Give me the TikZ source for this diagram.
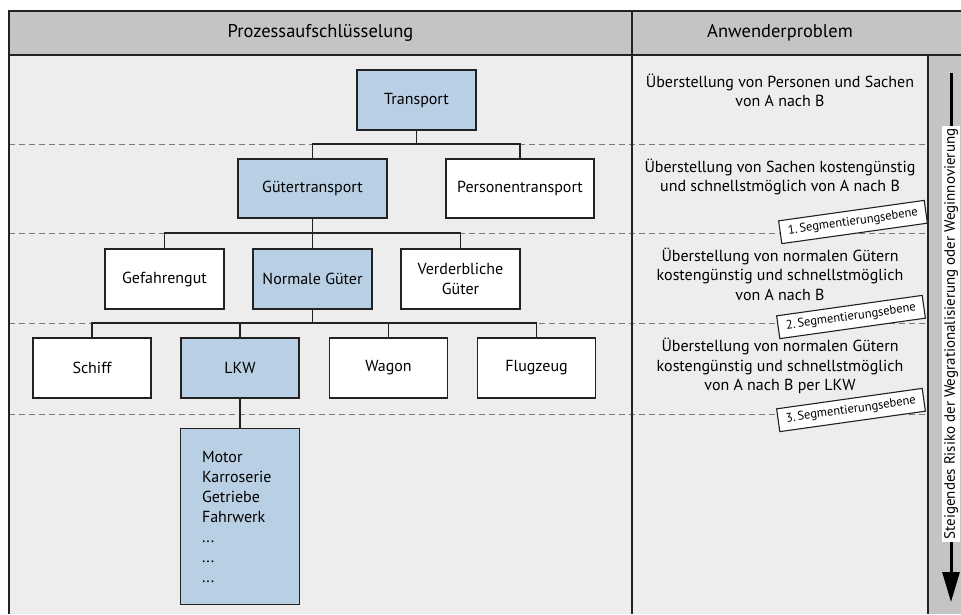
\documentclass[tikz,border=0pt]{standalone}
\usepackage{fontspec}
\setmainfont{PT Sans}
\usetikzlibrary{arrows.meta}

\definecolor{bodygray}{HTML}{EDEDED}
\definecolor{headgray}{HTML}{C4C4C4}
\definecolor{boxblue}{HTML}{B9CFE3}
\definecolor{dashgray}{HTML}{7A7A7A}
\definecolor{edge}{HTML}{222222}

\tikzset{
  frame/.style={draw=edge, line width=1.6pt},
  box/.style={draw=edge, line width=1.4pt, minimum width=119pt, minimum height=60pt,
    inner sep=0pt, align=center, font=\fontsize{16}{18}\selectfont},
  hl/.style={fill=boxblue},
  plain/.style={fill=white},
  conn/.style={draw=edge, line width=1.4pt},
  levelline/.style={draw=dashgray, line width=0.8pt, dash pattern=on 6pt off 4pt},
  seglabel/.style={draw=edge, fill=white, line width=1.1pt, rotate=8, inner sep=2pt,
    minimum width=147pt, minimum height=23pt, font=\fontsize{12.5}{14}\selectfont},
  rtext/.style={align=center, inner sep=0pt, font=\fontsize{16}{19.5}\selectfont},
  head/.style={inner sep=0pt, font=\fontsize{18.5}{21}\selectfont},
}

\begin{document}
\begin{tikzpicture}[x=1pt, y=-1pt]
\useasboundingbox (0,0) rectangle (961,614);

% backgrounds
\fill[bodygray] (9,55) rectangle (928,614);
\fill[headgray] (9,11) rectangle (961,55);
\fill[headgray] (928,55) rectangle (961,614);

% level separators
\coordinate (bus1) at (0,144);
\coordinate (bus2) at (0,233);
\coordinate (bus3) at (0,323);
\coordinate (bus4) at (0,414);
\foreach \yy in {144,233,323,414}
  \draw[levelline] (9,\yy) -- (928,\yy);

% table frame
\draw[frame] (961,11) -- (9,11) -- (9,614);
\draw[frame] (9,55) -- (961,55);
\draw[frame] (632,11) -- (632,614);
\draw[frame] (928,55) -- (928,614);

% headings
\node[head] (hproc) at (320.5,33) {Prozessaufschlüsselung};
\node[head] (huser) at (780,33) {Anwenderproblem};

% process tree
\node[box,hl] (transport) at (416.5,100) {Transport};
\node[box,hl,minimum width=149pt,minimum height=59pt] (gueter) at (312.5,188.5) {Gütertransport};
\node[box,plain,minimum width=148pt,minimum height=59pt] (personen) at (520,188.5) {Personentransport};

\node[box,plain] (gefahr) at (164.5,279) {Gefahrengut};
\node[box,hl] (normal) at (312.5,279) {Normale Güter};
\node[box,plain] (verderb) at (460.5,279) {Verderbliche\\[2pt]Güter};

\node[box,plain,minimum width=118pt] (schiff) at (92,368) {Schiff};
\node[box,hl,minimum width=118pt] (lkw) at (240,368) {LKW};
\node[box,plain,minimum width=118pt] (wagon) at (388.5,368) {Wagon};
\node[box,plain,minimum width=118pt] (flug) at (536.5,368) {Flugzeug};

\node[box,hl,anchor=north,minimum height=176pt,text width=76pt,inner xsep=21pt,
  align=left,font=\fontsize{16}{20}\selectfont] (motor) at (240,428)
  {Motor\\Karroserie\\Getriebe\\Fahrwerk\\...\\...\\...};

% connectors
\draw[conn] (transport.south) -- (transport.south |- bus1);
\draw[conn] (gueter.north) |- (personen.north |- bus1) -- (personen.north);

\draw[conn] (gueter.south) -- (normal.north);
\draw[conn] (gefahr.north) |- (verderb.north |- bus2) -- (verderb.north);

\draw[conn] (normal.south) -- (normal.south |- bus3);
\draw[conn] (schiff.north) |- (flug.north |- bus3) -- (flug.north);
\draw[conn] (lkw.north) -- (lkw.north |- bus3);
\draw[conn] (wagon.north) -- (wagon.north |- bus3);

\draw[conn] (lkw.south) -- (motor.north);

% user problem column
\node[rtext] (p1) at (780,90.5) {Überstellung von Personen und Sachen\\von A nach B};
\node[rtext] (p2) at (780,177) {Überstellung von Sachen kostengünstig\\und schnellstmöglich von A nach B};
\node[rtext] (p3) at (780,274) {Überstellung von normalen Gütern\\kostengünstig und schnellstmöglich\\von A nach B};
\node[rtext] (p4) at (780,366) {Überstellung von normalen Gütern\\kostengünstig und schnellstmöglich\\von A nach B per LKW};

\node[seglabel] (seg1) at (853,222) {1.\,Segmentierungsebene};
\node[seglabel] (seg2) at (851,317) {2.\,Segmentierungsebene};
\node[seglabel] (seg3) at (851,410) {3.\,Segmentierungsebene};

% risk arrow
\coordinate (rtop) at (951,73);
\coordinate (rbot) at (951,602);
\draw[draw=black, line width=3pt, -{Triangle[width=17pt,length=30pt]}] (rtop) -- (rbot);
\node[fill=white, rotate=90, inner xsep=3pt, inner ysep=2pt,
  font=\fontsize{15}{17}\selectfont] (risk) at (951,334)
  {Steigendes Risiko der Wegrationalisierung oder Weginnovierung};
\end{tikzpicture}
\end{document}
